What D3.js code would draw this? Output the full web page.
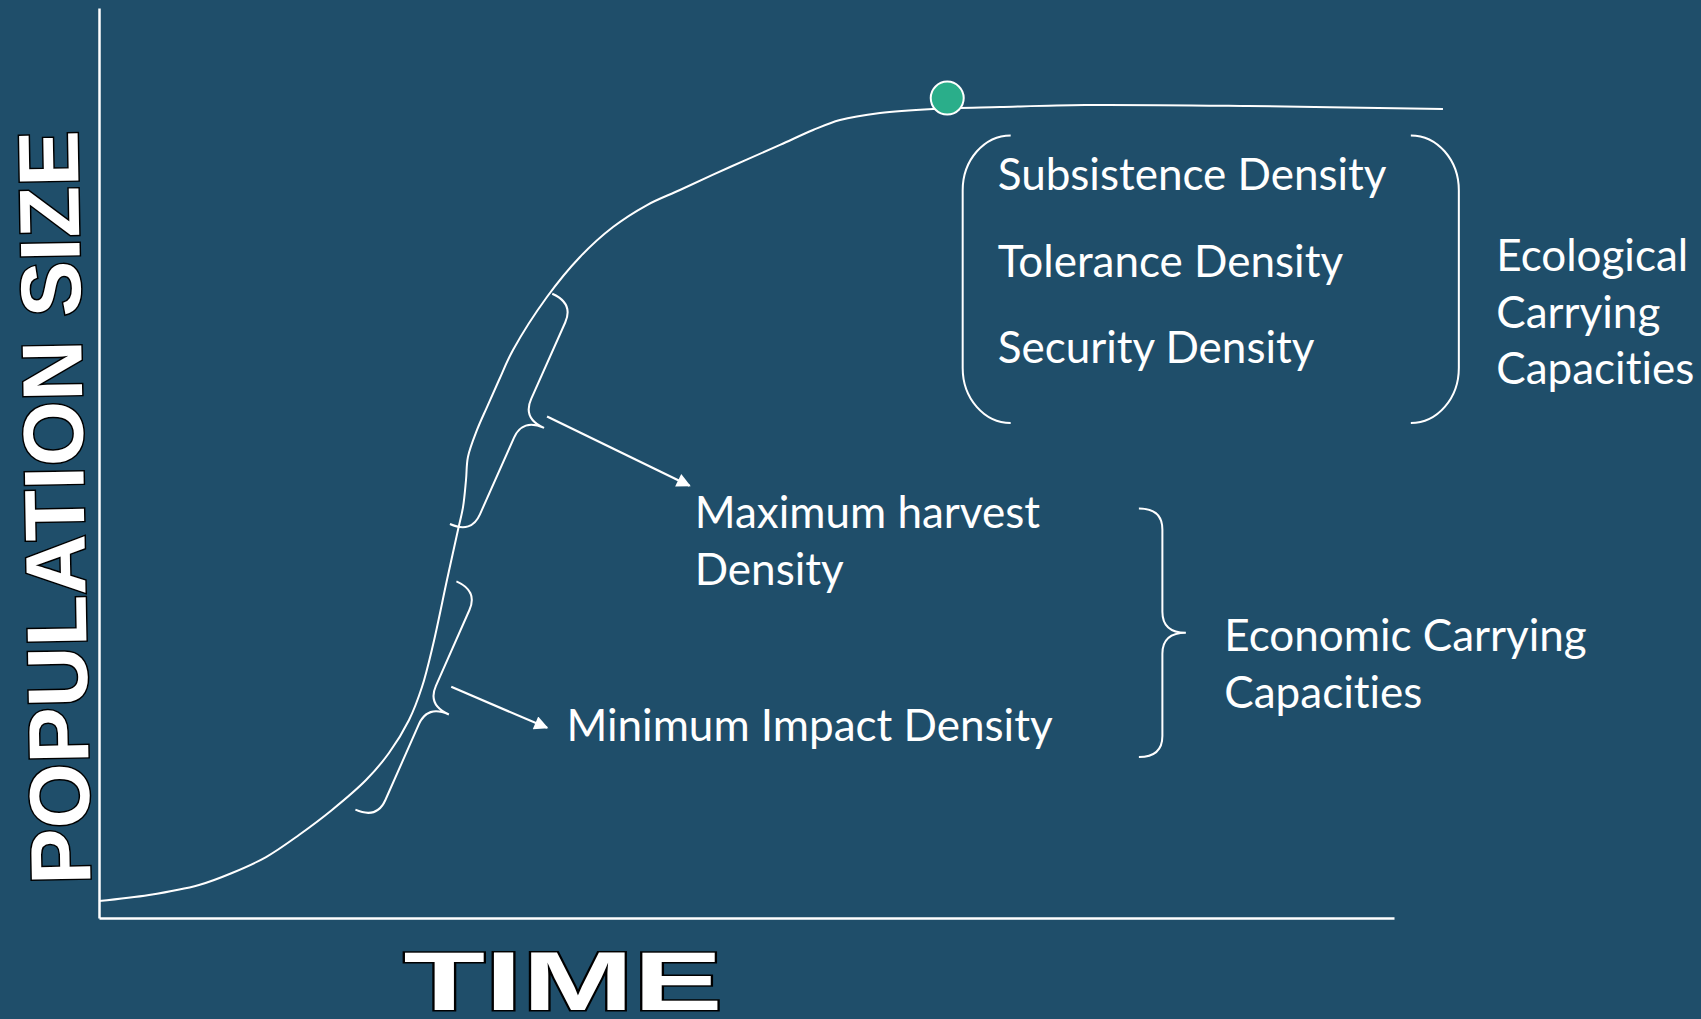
<!DOCTYPE html>
<html>
<head>
<meta charset="utf-8">
<script src="https://cdn.jsdelivr.net/npm/d3@7"></script>
<style>
  html, body { margin: 0; padding: 0; background: #1f4e6a; }
  svg { display: block; }
</style>
</head>
<body>
<div id="chart"></div>
<script>
// Growth curve: time vs population size (0-100 scale)
const time = [0, 3.86, 7.72, 10.27, 12.90, 15.44, 17.99, 20.62, 22.39, 23.94, 24.94, 25.79, 26.87, 27.72, 28.11, 28.34, 28.49, 29.19, 29.96, 30.89, 31.97, 34.59, 37.14, 39.69, 42.32, 44.86, 48.73, 52.59, 55.14, 57.22, 60.31, 64.40, 69.58, 76.14, 88.73, 103.78];
const population = [1.87, 2.53, 3.63, 4.95, 6.70, 9.12, 11.87, 15.16, 18.13, 21.76, 25.38, 30.00, 37.14, 42.64, 45.16, 48.13, 50.66, 53.63, 56.15, 59.12, 62.42, 68.24, 72.64, 75.93, 78.35, 80.00, 82.53, 84.95, 86.59, 87.69, 88.46, 88.90, 89.12, 89.34, 89.23, 88.90];

// point where the curve levels off
const peak = { time: 65.5, population: 90.1 };

// ecological carrying capacities (in the round bracket)
const ecoDensities = ["Subsistence Density", "Tolerance Density", "Security Density"];
const ecoDensityLevels = [80.0, 70.4, 61.0];
const ecoBracket = { t0: 70.4, t1: 101.3, top: 86.0, bottom: 54.4 };
const ecoTitle = ["Ecological", "Carrying", "Capacities"];
const ecoTitleLevels = [71.1, 64.8, 58.7];

// economic carrying capacities (pointed at by the braces on the curve)
const econDensities = [["Maximum harvest", "Density"], ["Minimum Impact Density"]];
const econDensityPos = [[46.0, 42.9], [36.1, 19.5]];
const econTitle = ["Economic Carrying", "Capacities"];
const econTitleLevels = [29.3, 23.1];

// curly braces: [time, population] of both ends
const braces = [
  { from: [35.0, 68.6], to: [27.1, 43.3] },
  { from: [27.6, 37.0], to: [19.8, 11.9] },
  { from: [80.3, 45.0], to: [80.3, 17.7] }
];
const arrows = [
  { from: [34.6, 55.1], to: [45.6, 47.5] },
  { from: [27.2, 25.4], to: [34.6, 20.9] }
];

const width = 1701;
const height = 1019;
const bg = "#1f4e6a";
const labelFont = "Lato, 'Open Sans', sans-serif";

const svg = d3.select("#chart")
    .append("svg")
    .attr("width", width)
    .attr("height", height);

svg.append("rect")
    .attr("width", width)
    .attr("height", height)
    .attr("fill", bg);

const x = d3.scaleLinear()
    .domain([0, 100])
    .range([99, 1394]);

const y = d3.scaleLinear()
    .domain([0, 100])
    .range([918, 8]);

// axes, no ticks
const xAxis = svg.append("g")
    .attr("transform", `translate(0,${y(0)})`)
    .call(d3.axisBottom(x).tickValues([]).tickSizeOuter(0));
const yAxis = svg.append("g")
    .attr("transform", `translate(${x(0)},0)`)
    .call(d3.axisLeft(y).tickValues([]).tickSizeOuter(0));
[xAxis, yAxis].forEach(g => g.select(".domain")
    .attr("stroke", "#fff")
    .attr("stroke-width", 2.5));

// arrow marker
svg.append("defs").append("marker")
    .attr("id", "head")
    .attr("viewBox", "0 0 10 10")
    .attr("refX", 9)
    .attr("refY", 5)
    .attr("markerUnits", "userSpaceOnUse")
    .attr("markerWidth", 18)
    .attr("markerHeight", 14)
    .attr("orient", "auto")
    .append("path")
    .attr("d", "M0,0 L10,5 L0,10 z")
    .attr("fill", "#fff");

// the growth curve
const line = d3.line()
    .x(i => x(time[i]))
    .y(i => y(population[i]))
    .curve(d3.curveCatmullRom.alpha(0.5));

svg.append("path")
    .attr("d", line(d3.range(time.length)))
    .attr("fill", "none")
    .attr("stroke", "#fff")
    .attr("stroke-width", 2);

// curly brace between two points, tip pointing to the right of the direction
function bracePath(a, b, depth, r) {
    const dx = b[0] - a[0], dy = b[1] - a[1];
    const L = Math.hypot(dx, dy);
    const e = [dx / L, dy / L];
    const n = [e[1], -e[0]];
    const h = depth / 2;
    const p = (u, v) => [a[0] + e[0] * u + n[0] * v, a[1] + e[1] * u + n[1] * v];
    const path = d3.path();
    const q = (c, t) => path.quadraticCurveTo(c[0], c[1], t[0], t[1]);
    path.moveTo(...p(0, 0));
    q(p(0, h), p(r, h));
    path.lineTo(...p(L / 2 - r, h));
    q(p(L / 2, h), p(L / 2, depth));
    q(p(L / 2, h), p(L / 2 + r, h));
    path.lineTo(...p(L - r, h));
    q(p(L, h), p(L, 0));
    return path.toString();
}

svg.selectAll(".brace")
    .data(braces)
    .enter()
    .append("path")
    .attr("class", "brace")
    .attr("d", d => bracePath([x(d.from[0]), y(d.from[1])], [x(d.to[0]), y(d.to[1])], 47, 21))
    .attr("fill", "none")
    .attr("stroke", "#fff")
    .attr("stroke-width", 2);

svg.selectAll(".arrow")
    .data(arrows)
    .enter()
    .append("line")
    .attr("class", "arrow")
    .attr("x1", d => x(d.from[0]))
    .attr("y1", d => y(d.from[1]))
    .attr("x2", d => x(d.to[0]))
    .attr("y2", d => y(d.to[1]))
    .attr("stroke", "#fff")
    .attr("stroke-width", 2.2)
    .attr("marker-end", "url(#head)");

// round bracket around the ecological densities
const bx0 = x(ecoBracket.t0), bx1 = x(ecoBracket.t1);
const by0 = y(ecoBracket.top), by1 = y(ecoBracket.bottom);
const rx = 48, ry = 55;
svg.append("path")
    .attr("d", `M${bx0},${by0} A${rx},${ry} 0 0 0 ${bx0 - rx},${by0 + ry} L${bx0 - rx},${by1 - ry} A${rx},${ry} 0 0 0 ${bx0},${by1}`)
    .attr("fill", "none")
    .attr("stroke", "#fff")
    .attr("stroke-width", 2);
svg.append("path")
    .attr("d", `M${bx1},${by0} A${rx},${ry} 0 0 1 ${bx1 + rx},${by0 + ry} L${bx1 + rx},${by1 - ry} A${rx},${ry} 0 0 1 ${bx1},${by1}`)
    .attr("fill", "none")
    .attr("stroke", "#fff")
    .attr("stroke-width", 2);

// peak marker
svg.append("circle")
    .attr("cx", x(peak.time))
    .attr("cy", y(peak.population))
    .attr("r", 16.5)
    .attr("fill", "#2aae8a")
    .attr("stroke", "#fff")
    .attr("stroke-width", 2);

// labels
function label(txt, tx, py) {
    svg.append("text")
        .attr("x", x(tx))
        .attr("y", y(py))
        .text(txt)
        .style("font-family", labelFont)
        .style("font-size", "44px")
        .style("font-variant-ligatures", "none")
        .style("fill", "#fff");
}

ecoDensities.forEach((t, i) => label(t, 69.4, ecoDensityLevels[i]));
ecoTitle.forEach((t, i) => label(t, 107.9, ecoTitleLevels[i]));
econDensities.forEach((lines, i) => lines.forEach((t, j) =>
    label(t, econDensityPos[i][0], econDensityPos[i][1] - j * 6.3)));
econTitle.forEach((t, i) => label(t, 86.9, econTitleLevels[i]));

// axis titles
svg.append("text")
    .attr("transform", "translate(84,507) rotate(-91)")
    .attr("text-anchor", "middle")
    .attr("textLength", 754)
    .attr("lengthAdjust", "spacingAndGlyphs")
    .text("POPULATION SIZE")
    .style("font-family", "'Liberation Sans', Arial, sans-serif")
    .style("font-weight", "bold")
    .style("font-size", "85px")
    .style("fill", "#fff")
    .style("stroke", "#000")
    .style("stroke-width", 3)
    .style("paint-order", "stroke");

svg.append("text")
    .attr("x", 563)
    .attr("y", 1010)
    .attr("text-anchor", "middle")
    .attr("textLength", 319)
    .attr("lengthAdjust", "spacingAndGlyphs")
    .text("TIME")
    .style("font-family", "'Liberation Sans', Arial, sans-serif")
    .style("font-weight", "bold")
    .style("font-size", "84px")
    .style("fill", "#fff")
    .style("stroke", "#000")
    .style("stroke-width", 3)
    .style("paint-order", "stroke");
</script>
</body>
</html>
